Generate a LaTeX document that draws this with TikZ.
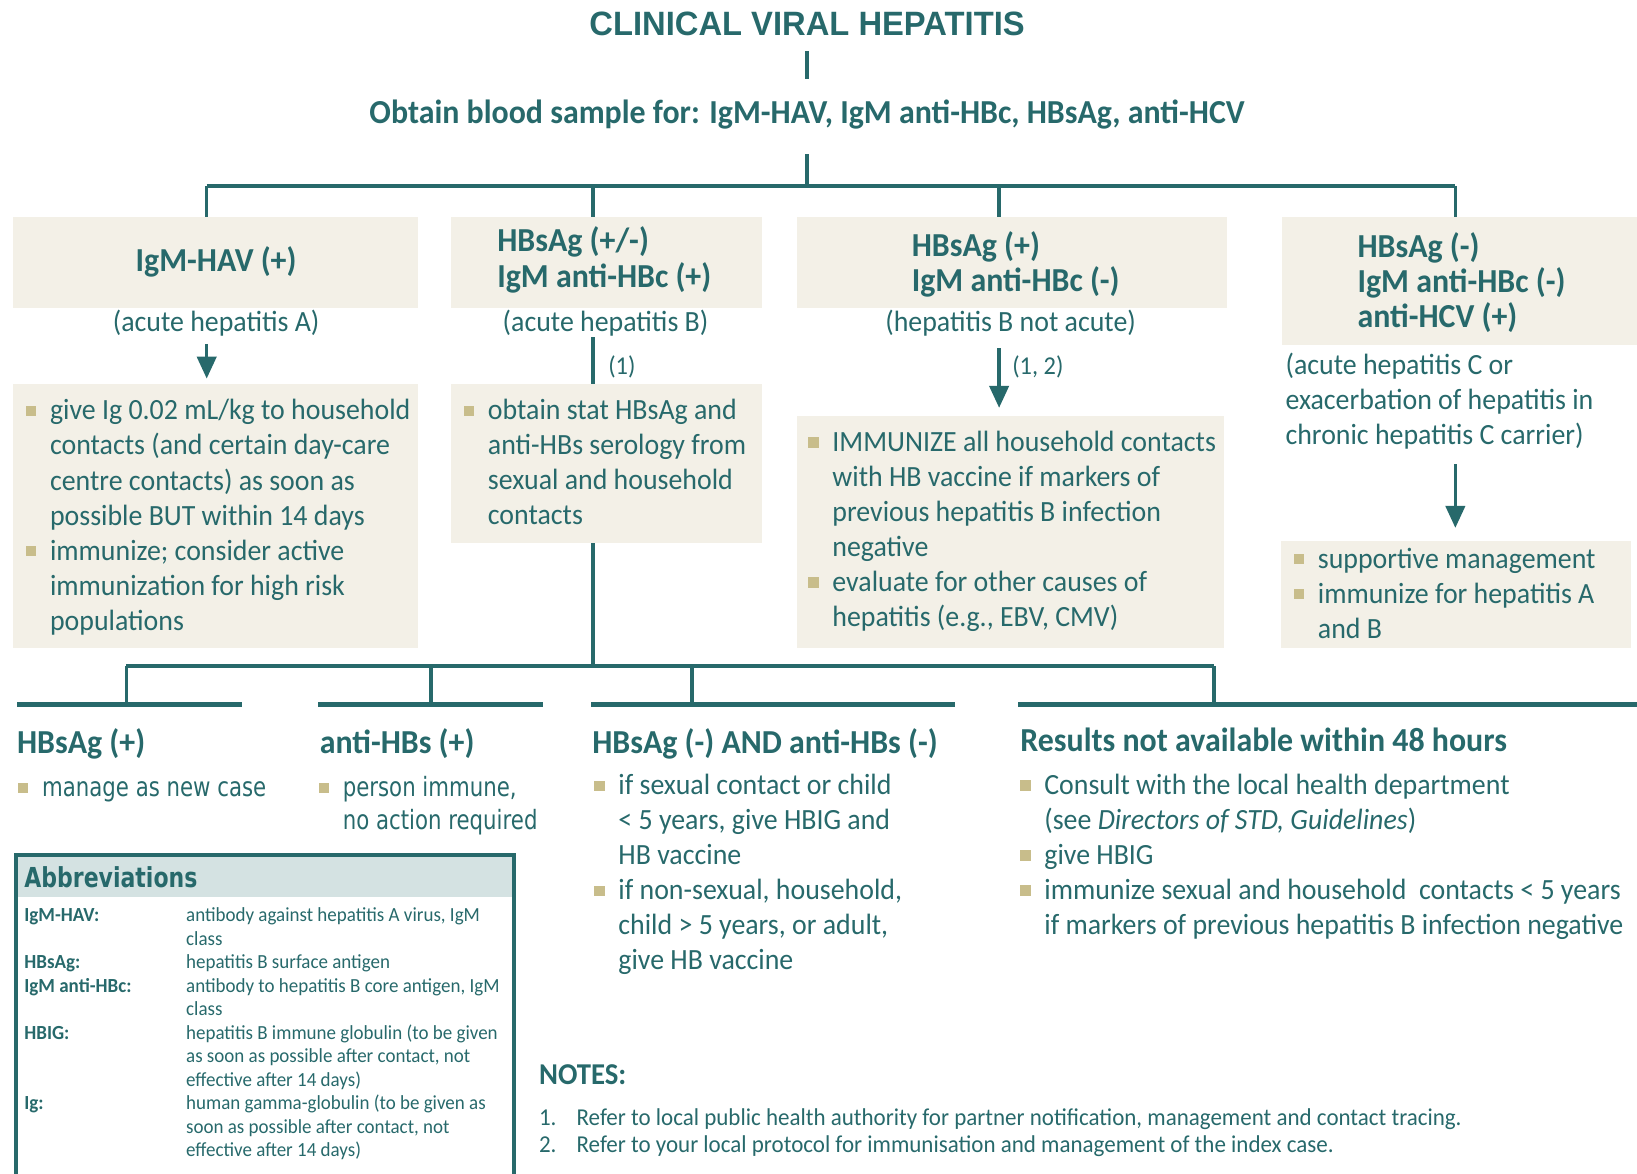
\documentclass[tikz,border=0pt]{standalone}
\usepackage{fontspec}
\setmainfont[FakeStretch=0.95]{Carlito}
\newfontfamily\widefont[FakeStretch=0.8]{DejaVu Sans}
\newfontfamily\titlefont[FakeStretch=0.97]{Liberation Sans}
\usetikzlibrary{positioning, arrows.meta, fit}

\definecolor{hepteal}{HTML}{27696B}
\definecolor{boxfill}{HTML}{F3F0E7}
\definecolor{bulfill}{HTML}{C8BD8B}
\definecolor{abbfill}{HTML}{D4E2E2}

\newcommand{\bul}{\makebox[0pt][r]{\textcolor{bulfill}{\rule[2pt]{5.6pt}{5.6pt}}\hspace{7.5pt}}}

\begin{document}
\begin{tikzpicture}[
  x=0.02cm, y=-0.02cm,
  >={Triangle[width=10.5pt, length=12pt]},
  every node/.style={inner sep=0pt, text=hepteal},
  box/.style={fill=boxfill, inner sep=0pt},
  head/.style={font=\fontsize{18.3}{19.3}\selectfont\bfseries, align=left},
  body/.style={font=\fontsize{16}{19.1}\selectfont, align=left},
  wide/.style={font=\widefont\fontsize{14.5}{18.1}\selectfont, align=left},
  small/.style={font=\fontsize{10.9}{12.8}\selectfont},
  wire/.style={draw=hepteal, line width=1.9pt},
  bar/.style={fill=hepteal, inner sep=0pt},
  ]
  \useasboundingbox (0,0) rectangle (1568,1124);

  % --- title ---
  \node[font=\titlefont\fontsize{18.4}{22}\selectfont\bfseries, anchor=base] (title) at (773,34) {CLINICAL VIRAL HEPATITIS};
  \node[head, anchor=base] (obtain) at (773,118) {Obtain blood sample for: IgM-HAV, IgM anti-HBc, HBsAg, anti-HCV};
  \coordinate (top) at (773,178);
  \draw[wire, shorten <=0.28cm, shorten >=0.39cm] (title) -- (obtain);
  \draw[wire, shorten <=0.48cm] (obtain) -- (top);

  % --- first row ---
  \node[box, fit={(12,208) (400,295)}] (hav) {};
  \node[box, fit={(432,208) (730,295)}] (hbc) {};
  \node[box, fit={(763,208) (1175,295)}] (hbs) {};
  \node[box, fit={(1228,208) (1568,330)}] (hcv) {};
  \node[head, anchor=base] (havtxt) at (207,260) {IgM-HAV (+)};
  \node[head, anchor=base west] (hbctxt) at (476,275) {HBsAg (+/-)\\IgM anti-HBc (+)};
  \node[head, anchor=base west] (hbstxt) at (873,279.5) {HBsAg (+)\\IgM anti-HBc (-)};
  \node[head, anchor=base west] (hcvtxt) at (1300,314) {HBsAg (-)\\IgM anti-HBc (-)\\anti-HCV (+)};

  \coordinate (j1) at (198,178);
  \coordinate (j2) at (568,178);
  \coordinate (j3) at (957,178);
  \coordinate (j4) at (1394,178);
  \draw[wire] (j1) -- (j4);
  \draw[wire] (j1) -- (j1 |- hav.north);
  \draw[wire] (j2) -- (j2 |- hbc.north);
  \draw[wire] (j3) -- (j3 |- hbs.north);
  \draw[wire] (j4) -- (j4 |- hcv.north);

  \node[body, anchor=base] (capA) at (207,318) {(acute hepatitis A)};
  \node[body, anchor=base] (capB) at (580,318) {(acute hepatitis B)};
  \node[body, anchor=base] (capC) at (968,318) {(hepatitis B not acute)};
  \node[body, anchor=base west] (capD) at (1231,426) {(acute hepatitis C or\\exacerbation of hepatitis in\\chronic hepatitis C carrier)};

  % --- second row ---
  \node[box, fit={(12,368) (400,621)}] (give) {};
  \node[box, fit={(432,368) (730,520)}] (stat) {};
  \node[box, fit={(763,398) (1172,621)}] (immun) {};
  \node[box, fit={(1227,518) (1562,621)}] (supp) {};

  \draw[wire, ->, shorten <=0.13cm, shorten >=0.1cm] (j1 |- capA.south) -- (j1 |- give.north);
  \draw[wire] (j2 |- capB.south) -- (j2 |- stat.north)
    node[pos=0.64, right=0.26cm, font=\fontsize{14}{15}\selectfont] (note1) {(1)};
  \draw[wire, ->, shorten <=0.21cm, shorten >=0.14cm] (j3 |- capC.south) -- (j3 |- immun.north)
    node[pos=0.38, right=0.22cm, font=\fontsize{14}{15}\selectfont] (note12) {(1, 2)};
  \draw[wire, ->, shorten <=0.28cm, shorten >=0.24cm] (j4 |- capD.south) -- (j4 |- supp.north);

  \node[body, anchor=base west] (givetxt) at (47.6,603.6) {\bul give Ig 0.02 mL/kg to household\\contacts (and certain day-care\\centre contacts) as soon as\\possible BUT within 14 days\\\bul immunize; consider active\\immunization for high risk\\populations};
  \node[body, anchor=base west] (stattxt) at (467,502.8) {\bul obtain stat HBsAg and\\anti-HBs serology from\\sexual and household\\contacts};
  \node[body, anchor=base west] (immuntxt) at (797,600) {\bul IMMUNIZE all household contacts\\with HB vaccine if markers of\\previous hepatitis B infection\\negative\\\bul evaluate for other causes of\\hepatitis (e.g., EBV, CMV)};
  \node[body, anchor=base west] (supptxt) at (1262,611.2) {\bul supportive management\\\bul immunize for hepatitis A\\and B};

  % --- results of serology ---
  \coordinate (m0) at (568,638);
  \coordinate (m1) at (121,638);
  \coordinate (m2) at (413,638);
  \coordinate (m3) at (663,638);
  \coordinate (m4) at (1163,638);
  \draw[wire] (j2 |- stat.south) -- (m0);
  \draw[wire] (m1) -- (m4);

  \node[bar, fit={(16,672.6) (232,677.4)}] (barA) {};
  \node[bar, fit={(305,672.6) (520,677.4)}] (barB) {};
  \node[bar, fit={(566,672.6) (915,677.4)}] (barC) {};
  \node[bar, fit={(975,672.6) (1568,677.4)}] (barD) {};
  \draw[wire] (m1) -- (m1 |- barA.north);
  \draw[wire] (m2) -- (m2 |- barB.north);
  \draw[wire] (m3) -- (m3 |- barC.north);
  \draw[wire] (m4) -- (m4 |- barD.north);

  \node[head, anchor=base west] (posA) at (16,722) {HBsAg (+)};
  \node[head, anchor=base west] (posB) at (306,722) {anti-HBs (+)};
  \node[head, anchor=base west] (negC) at (567,722) {HBsAg (-) AND anti-HBs (-)};
  \node[head, anchor=base west] (late) at (977,720) {Results not available within 48 hours};

  \node[wide, anchor=base west] (newcase) at (40,763) {\bul manage as new case};
  \node[wide, anchor=base west] (immune) at (328,795) {\bul person immune,\\no action required};
  \node[body, anchor=base west] (vacc) at (592,929) {\bul if sexual contact or child\\< 5 years, give HBIG and\\HB vaccine\\\bul if non-sexual, household,\\child > 5 years, or adult,\\give HB vaccine};
  \node[body, anchor=base west] (consult) at (1000,895) {\bul Consult with the local health department\\(see \textit{Directors of STD, Guidelines})\\\bul give HBIG\\\bul immunize sexual and household\ \ contacts < 5 years\\if markers of previous hepatitis B infection negative};

  % --- abbreviations ---
  \node[fill=abbfill, fit={(15.5,818.8) (492.3,859)}] (abbhead) {};
  \node[draw=hepteal, line width=1.9pt, fit={(15.5,818.8) (492.3,1140)}] (abbr) {};
  \node[font=\widefont\fontsize{15}{18}\selectfont\bfseries, anchor=base west] (abbtitle) at (23,850) {Abbreviations};
  \node[small, anchor=base west] (abblist) at (23,883) {\begin{tabular}[t]{@{}p{3.1cm}@{}l@{}}
    \textbf{IgM-HAV:} & antibody against hepatitis A virus, IgM\\
     & class\\
    \textbf{HBsAg:} & hepatitis B surface antigen\\
    \textbf{IgM anti-HBc:} & antibody to hepatitis B core antigen, IgM\\
     & class\\
    \textbf{HBIG:} & hepatitis B immune globulin (to be given\\
     & as soon as possible after contact, not\\
     & effective after 14 days)\\
    \textbf{Ig:} & human gamma-globulin (to be given as\\
     & soon as possible after contact, not\\
     & effective after 14 days)
  \end{tabular}};

  % --- notes ---
  \node[font=\fontsize{16.5}{18}\selectfont\bfseries, anchor=base west] (notes) at (516,1039) {NOTES:};
  \node[font=\fontsize{13.2}{14.5}\selectfont, anchor=base west] (notelist) at (516,1078) {\begin{tabular}[t]{@{}p{0.72cm}@{}l@{}}
    1. & Refer to local public health authority for partner notification, management and contact tracing.\\
    2. & Refer to your local protocol for immunisation and management of the index case.
  \end{tabular}};

\end{tikzpicture}
\end{document}
